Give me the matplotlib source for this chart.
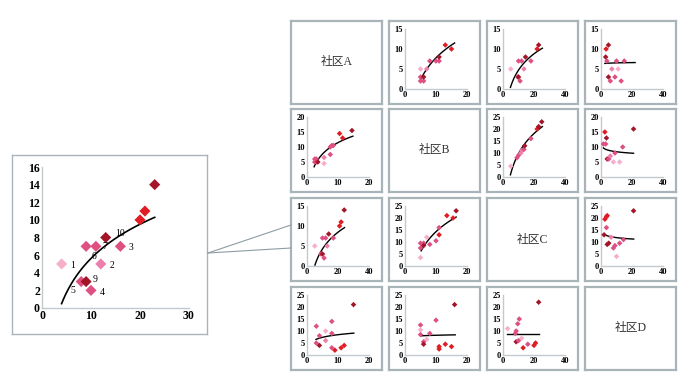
import numpy as np
import matplotlib
matplotlib.use('Agg')
import matplotlib.pyplot as plt
from matplotlib.lines import Line2D

plt.rcParams['font.family'] = ['Liberation Serif', 'Noto Sans CJK SC']

# colour groups: 0 light pink, 1 pink, 2 deep pink, 3 red, 4 dark red
palette = ['#f6aecb', '#ec7fab', '#de4f82', '#e01c24', '#a3162a']

# enlarged panel (same as row 3, col 1 of the matrix)
big_x = [4, 12, 16, 10, 8, 9, 11, 9, 13, 20, 21, 23]
big_y = [5, 5, 7, 2, 3, 7, 7, 3, 8, 10, 11, 14]
big_c = [0, 1, 2, 2, 2, 2, 2, 4, 4, 3, 3, 4]
big_lab = ['1', '2', '3', '4', '5', '6', '7', '9', '10', '', '', '']
# log trendline: y = a*ln(x) + b over [x0, x1]
big_trend = (5.6, -7.27, 4, 23)

names = ['社区A', '社区B', '社区C', '社区D']

p01_x = [5, 6, 5, 6, 5, 7, 8, 10, 11, 11, 13, 15]
p01_y = [2, 2, 3, 3, 5, 5, 7, 7, 7, 8, 11, 10]
p01_c = [2, 2, 2, 4, 0, 1, 2, 2, 2, 4, 3, 3]
p01_t = (7.9, -10.4, 4.8, 16)

p02_x = [5, 9.5, 10, 11, 10, 12, 13.5, 14.5, 18, 22, 23]
p02_y = [5, 3, 3, 2, 7, 7, 5, 8, 7, 10, 11]
p02_c = [0, 2, 4, 2, 2, 2, 1, 4, 2, 3, 4]
p02_t = (5.88, -8.82, 4.8, 25.4)

p03_x = [3, 3.3, 4.8, 3.8, 10, 15, 7, 11, 4.8, 6, 9, 13]
p03_y = [8, 10, 11, 7, 7, 7, 5, 5, 3, 2, 3, 2]
p03_c = [4, 3, 4, 2, 2, 2, 1, 0, 4, 2, 2, 2]
p03_t = (0.1, 6.3, 2.5, 22)

p10_x = [2.5, 3, 2.5, 3, 3.5, 5.5, 5.5, 7.5, 7.5, 8, 8.5, 10.5, 11.5, 14.5]
p10_y = [6, 6, 5, 5, 5, 6.5, 4.5, 7.5, 10, 10.5, 10.5, 14.5, 13, 15.5]
p10_c = [2, 2, 2, 2, 4, 1, 0, 2, 2, 2, 2, 3, 3, 4]
p10_t = (5.48, -1.16, 2.3, 14.8)

p12_x = [5, 9, 10, 11.5, 12, 13.5, 14, 18, 22, 23, 25]
p12_y = [4.5, 8, 9, 10, 11, 11.5, 13, 16, 20, 21, 23]
p12_c = [0, 2, 2, 1, 1, 2, 4, 2, 3, 4, 4]
p12_t = (12.06, -18.02, 4.8, 25.4)

p13_x = [2.5, 3.5, 1.5, 3, 4, 5, 6, 9, 8, 12, 14, 21]
p13_y = [15, 13, 11, 11, 6, 6, 7, 8, 5, 5, 10, 16]
p13_c = [3, 4, 2, 2, 4, 2, 1, 2, 0, 0, 2, 4]
p13_t = (-0.68, 9.98, 1.5, 21)

p20_x = [5, 9, 10, 11, 10, 12, 13, 14, 17, 21, 22, 24]
p20_y = [5, 3, 3, 2, 7, 7, 5, 8, 7, 10, 11, 14]
p20_c = [0, 2, 4, 2, 2, 2, 1, 4, 2, 3, 3, 4]
p20_t = (6.03, -9.62, 5.1, 24.2)

p21_x = [5, 5, 5, 6, 6, 7, 8, 10, 11, 11, 13.5, 15.5, 16.5]
p21_y = [3.5, 7.5, 9.5, 9.5, 8.5, 12, 9, 10.5, 13, 16, 21, 20, 23]
p21_c = [0, 2, 2, 2, 4, 0, 2, 2, 3, 2, 3, 3, 4]
p21_t = (12.2, -13.8, 5.2, 16.5)

p23_x = [2, 3.5, 2.5, 3.5, 4, 4, 5, 6.5, 8, 9, 12, 14.5, 10, 21]
p23_y = [13, 16, 19.5, 20.5, 21, 9, 9.5, 12, 7.5, 8.5, 9.5, 11, 4, 23]
p23_c = [4, 2, 3, 3, 3, 4, 4, 1, 2, 2, 2, 2, 0, 4]
p23_t = (-0.83, 13.74, 1.7, 21.1)

p30_x = [3, 3, 4, 4, 6, 6, 8, 8, 8, 9, 11, 12, 15]
p30_y = [12, 5, 8, 4, 10, 6, 14, 9, 3, 2, 3, 4, 21]
p30_c = [2, 2, 2, 4, 0, 1, 2, 2, 2, 3, 3, 3, 4]
p30_t = (1.58, 4.82, 2.9, 15.1)

p31_x = [5, 5, 5, 6, 6, 7, 8, 10, 11, 11, 13, 15, 16]
p31_y = [12.5, 10.5, 8.5, 5.5, 4.5, 6.5, 9, 14.5, 3.5, 2.5, 4.5, 3.5, 21]
p31_c = [2, 0, 2, 2, 4, 0, 2, 2, 3, 3, 3, 3, 4]
p31_t = (0.35, 7.42, 5.2, 16.2)

p32_x = [3, 8, 8.5, 9.5, 10.5, 8.5, 10, 12, 13, 16, 20, 21, 23]
p32_y = [11, 9, 10, 13, 15, 5.5, 6, 7, 3, 4.5, 4, 5, 22]
p32_c = [0, 2, 2, 2, 2, 4, 2, 0, 3, 2, 3, 3, 4]
p32_t = (0.0, 8.7, 2.5, 23)

# (row, col): (x, y, colours, trend, xmax, ymax)
panels = {
    (0, 1): (p01_x, p01_y, p01_c, p01_t, 20, 15),
    (0, 2): (p02_x, p02_y, p02_c, p02_t, 40, 15),
    (0, 3): (p03_x, p03_y, p03_c, p03_t, 40, 15),
    (1, 0): (p10_x, p10_y, p10_c, p10_t, 20, 20),
    (1, 2): (p12_x, p12_y, p12_c, p12_t, 40, 25),
    (1, 3): (p13_x, p13_y, p13_c, p13_t, 40, 20),
    (2, 0): (p20_x, p20_y, p20_c, p20_t, 40, 15),
    (2, 1): (p21_x, p21_y, p21_c, p21_t, 20, 25),
    (2, 3): (p23_x, p23_y, p23_c, p23_t, 40, 25),
    (3, 0): (p30_x, p30_y, p30_c, p30_t, 20, 25),
    (3, 1): (p31_x, p31_y, p31_c, p31_t, 20, 25),
    (3, 2): (p32_x, p32_y, p32_c, p32_t, 40, 25),
}

W, H = 682, 378
frame_col = '#a9b4b9'
spine_col = '#c3cace'


def px_axes(fig, x0, y0, w, h):
    # pixel box (top-left origin) -> figure axes
    return fig.add_axes([x0 / W, 1 - (y0 + h) / H, w / W, h / H])


def log_trend(ax, trend, lw):
    a, b, x0, x1 = trend
    xs = np.linspace(x0, x1, 100)
    ax.plot(xs, a * np.log(xs) + b, color='black', lw=lw, zorder=2)


def style(ax, fs):
    for s in ['top', 'right']:
        ax.spines[s].set_visible(False)
    for s in ['left', 'bottom']:
        ax.spines[s].set_color(spine_col)
        ax.spines[s].set_linewidth(1)
    ax.tick_params(length=0, pad=1.5, labelsize=fs)
    for t in ax.get_xticklabels() + ax.get_yticklabels():
        t.set_fontweight('bold')


def frame(fig, x0, y0, w, h, lw):
    f = px_axes(fig, x0, y0, w, h)
    f.set_xticks([])
    f.set_yticks([])
    for s in f.spines.values():
        s.set_color(frame_col)
        s.set_linewidth(lw)
    f.patch.set_alpha(0)
    return f


fig = plt.figure(figsize=(W / 100, H / 100), dpi=100)

# ---- enlarged panel on the left
frame(fig, 12, 155, 195, 179, 1.0)
ax = px_axes(fig, 42, 167, 147, 141)
ax.scatter(big_x, big_y, c=[palette[i] for i in big_c], marker='D', s=32,
           linewidths=0, zorder=3)
log_trend(ax, big_trend, 1.2)
offs = {'1': (6, -3), '2': (6, -3), '3': (6, -3), '4': (6, -3), '5': (-8, -8),
        '6': (4, -9), '7': (5, -2), '9': (5, 0), '10': (7, 1)}
for xx, yy, lab in zip(big_x, big_y, big_lab):
    if lab:
        ax.annotate(lab, (xx, yy), xytext=offs[lab], textcoords='offset points',
                    fontsize=7)
ax.set_xlim(0, 30)
ax.set_ylim(0, 16)
ax.set_xticks([0, 10, 20, 30])
ax.set_yticks(range(0, 17, 2))
ax.patch.set_alpha(0)
style(ax, 8.5)

# ---- 4x4 matrix
col_left = [291, 389, 487, 585]
row_top = [21, 109, 198, 287]
bw, bh = 91, 83
for r in range(4):
    for c in range(4):
        x0, y0 = col_left[c], row_top[r]
        f = frame(fig, x0, y0, bw, bh, 1.6)
        if r == c:
            f.text(0.5, 0.5, names[r], ha='center', va='center', fontsize=8.5,
                   transform=f.transAxes, color='#333333')
            continue
        px, py, pc, pt, xmax, ymax = panels[(r, c)]
        a = px_axes(fig, x0 + 16, y0 + 8, 62, 60)
        a.scatter(px, py, c=[palette[i] for i in pc], marker='D', s=8,
                  linewidths=0, zorder=3)
        log_trend(a, pt, 1.0)
        a.set_xlim(0, xmax)
        a.set_ylim(0, ymax)
        a.set_xticks([0, xmax / 2, xmax])
        a.set_xticklabels([0, int(xmax / 2), xmax])
        a.set_yticks(range(0, ymax + 1, 5))
        a.patch.set_alpha(0)
        style(a, 6)

# connector lines from enlarged panel to its cell
for yy in (225, 248):
    fig.add_artist(Line2D([208 / W, 291 / W], [1 - 253 / H, 1 - yy / H],
                          color='#8e9da3', lw=0.8))

fig.savefig('out.png', dpi=100)
